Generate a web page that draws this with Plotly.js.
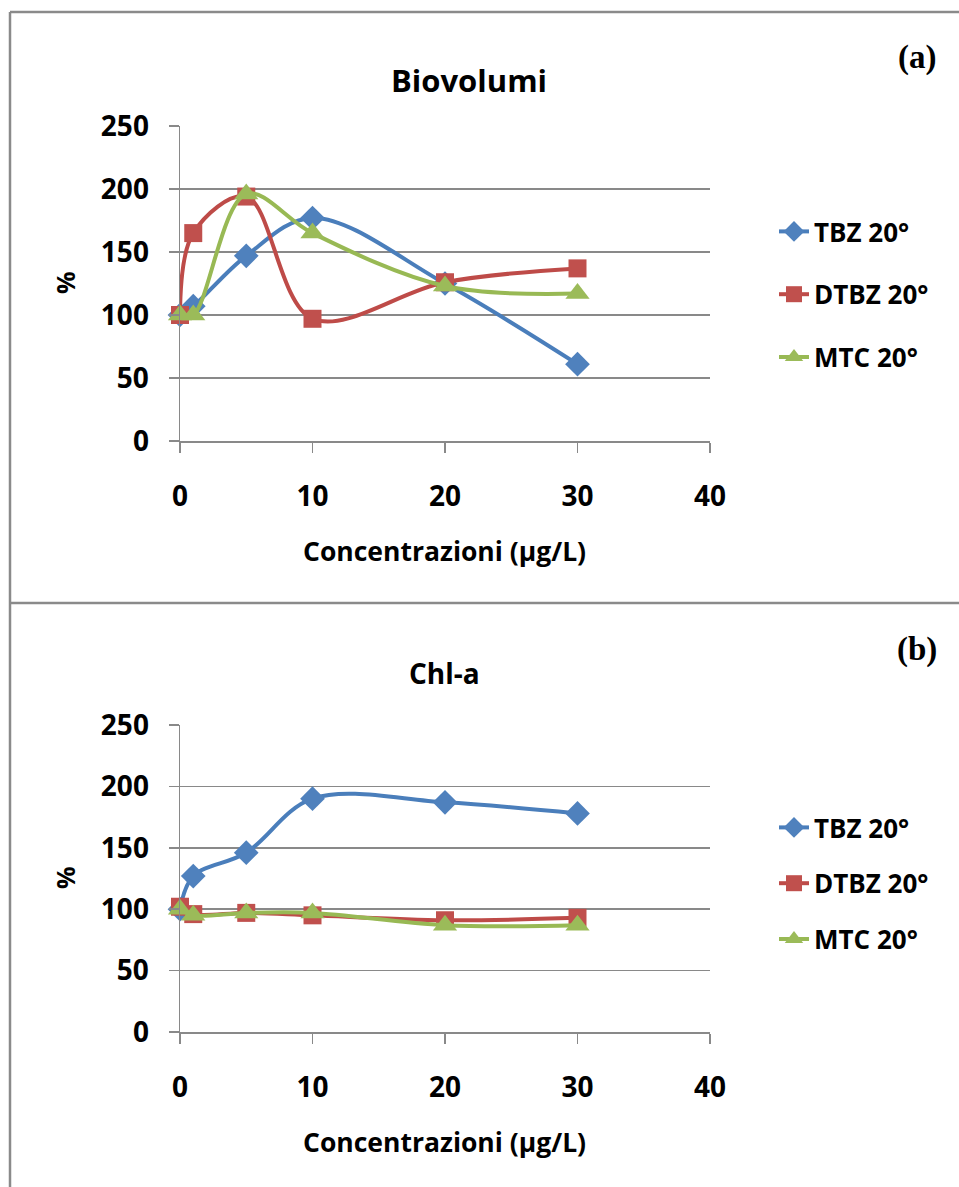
<!DOCTYPE html>
<html>
<head>
<meta charset="utf-8">
<script src="https://cdn.plot.ly/plotly-3.0.1.min.js"></script>
<style>
  html, body { margin: 0; padding: 0; background: #ffffff; }
  #chart { width: 959px; height: 1187px; }
</style>
</head>
<body>
<div id="chart"></div>
<script>
// Concentrations tested (µg/L)
const conc = [0, 1, 5, 10, 20, 30];

// Panel (a): biovolume, % of control
const bioTBZ  = [100, 107, 147, 177, 125, 61];
const bioDTBZ = [100, 165, 194, 97, 126, 137];
const bioMTC  = [100, 100, 196, 165, 123, 117];

// Panel (b): chlorophyll-a, % of control
const chlTBZ  = [100, 127, 146, 190, 187, 178];
const chlDTBZ = [102, 96, 97, 95, 91, 93];
const chlMTC  = [100, 95, 97, 97, 87, 87];

const seriesNames = ['TBZ 20°', 'DTBZ 20°', 'MTC 20°'];
const xTicks = [0, 10, 20, 30, 40];
const yTicks = [0, 50, 100, 150, 200, 250];

const W = 959, H = 1187;
const px = v => v / W;
const py = v => 1 - v / H;

const FONT = 'Open Sans, Lato, sans-serif';
const styles = [
  { color: '#4A7EBB', mcolor: '#4F81BD', symbol: 'diamond', size: 19 },
  { color: '#BE4B48', mcolor: '#C0504D', symbol: 'square', size: 18 },
  { color: '#98B954', mcolor: '#9BBB59', symbol: 'triangle-up', size: 21 }
];

function makeTrace(y, i, xa, ya, legendId) {
  const s = styles[i];
  return {
    type: 'scatter',
    mode: 'lines+markers',
    x: conc,
    y: y,
    name: seriesNames[i],
    xaxis: xa,
    yaxis: ya,
    legend: legendId,
    legendgroup: legendId + '_' + i,
    cliponaxis: false,
    line: { color: s.color, width: 4, shape: 'spline', smoothing: 1 },
    marker: { symbol: s.symbol, size: s.size, color: s.mcolor, line: { width: 0 } }
  };
}

const data = [
  makeTrace(bioTBZ, 0, 'x', 'y', 'legend'),
  makeTrace(bioDTBZ, 1, 'x', 'y', 'legend'),
  makeTrace(bioMTC, 2, 'x', 'y', 'legend'),
  makeTrace(chlTBZ, 0, 'x2', 'y2', 'legend2'),
  makeTrace(chlDTBZ, 1, 'x2', 'y2', 'legend2'),
  makeTrace(chlMTC, 2, 'x2', 'y2', 'legend2')
];

const tickFont = { family: FONT, size: 28, color: '#000000', weight: 'bold' };
const GRAY = '#898989';

function xAxis(anchor) {
  return {
    domain: [px(180), px(710)],
    anchor: anchor,
    range: [0, 40],
    tickvals: xTicks,
    ticktext: xTicks.map(String),
    showgrid: false,
    zeroline: false,
    showline: true,
    linecolor: GRAY,
    linewidth: 1.5,
    ticks: 'outside',
    ticklen: 10,
    tickwidth: 1.5,
    tickcolor: GRAY,
    ticklabelstandoff: 20,
    tickfont: tickFont,
    fixedrange: true
  };
}

function yAxis(anchor, top, bottom) {
  return {
    domain: [py(bottom), py(top)],
    anchor: anchor,
    range: [0, 250],
    tickvals: yTicks,
    ticktext: yTicks.map(String),
    showgrid: true,
    gridcolor: GRAY,
    gridwidth: 1.5,
    zeroline: false,
    showline: true,
    linecolor: GRAY,
    linewidth: 1.5,
    ticks: 'outside',
    ticklen: 10,
    tickwidth: 1.5,
    tickcolor: GRAY,
    ticklabelstandoff: 14,
    tickfont: tickFont,
    fixedrange: true
  };
}

function label(text, x, y, size, extra) {
  return Object.assign({
    text: text,
    xref: 'paper', yref: 'paper',
    x: px(x), y: py(y),
    xanchor: 'center', yanchor: 'middle',
    showarrow: false,
    font: { family: FONT, size: size, color: '#000000', weight: 'bold' }
  }, extra || {});
}

const serif = { family: 'Liberation Serif, Times New Roman, serif', size: 33, color: '#000000', weight: 'bold' };

const annotations = [
  label('Biovolumi', 469, 80, 31),
  label('Chl-a', 444, 673, 28),
  label('Concentrazioni (µg/L)', 444, 551, 26.5),
  label('Concentrazioni (µg/L)', 444, 1142, 26.5),
  label('%', 65, 283, 25, { textangle: -90 }),
  label('%', 65, 878, 25, { textangle: -90 }),
  Object.assign(label('(a)', 917, 57, 33), { font: serif }),
  Object.assign(label('(b)', 917, 649, 33), { font: serif })
];

const BORDER = '#8A8A8A';
const shapes = [
  { type: 'line', xref: 'paper', yref: 'paper', x0: px(10), x1: 1, y0: py(12), y1: py(12), line: { color: BORDER, width: 2.5 } },
  { type: 'line', xref: 'paper', yref: 'paper', x0: px(10), x1: px(10), y0: py(12), y1: 0, line: { color: BORDER, width: 2.5 } },
  { type: 'line', xref: 'paper', yref: 'paper', x0: px(10), x1: 1, y0: py(603), y1: py(603), line: { color: BORDER, width: 2.5 } }
];

const legendBase = {
  xanchor: 'left', yanchor: 'top',
  bgcolor: 'rgba(0,0,0,0)',
  borderwidth: 0,
  font: { family: FONT, size: 26, color: '#000000', weight: 'bold' },
  itemclick: false, itemdoubleclick: false
};

const layout = {
  width: W,
  height: H,
  margin: { l: 0, r: 0, t: 0, b: 0 },
  paper_bgcolor: '#ffffff',
  plot_bgcolor: '#ffffff',
  showlegend: true,
  xaxis: xAxis('y'),
  yaxis: yAxis('x', 126, 441),
  xaxis2: xAxis('y2'),
  yaxis2: yAxis('x2', 725, 1032),
  legend: Object.assign({}, legendBase, { x: px(774), y: py(208), tracegroupgap: 26 }),
  legend2: Object.assign({}, legendBase, { x: px(774), y: py(804), tracegroupgap: 19 }),
  annotations: annotations,
  shapes: shapes
};

Plotly.newPlot('chart', data, layout, { staticPlot: true, displayModeBar: false });
</script>
</body>
</html>
